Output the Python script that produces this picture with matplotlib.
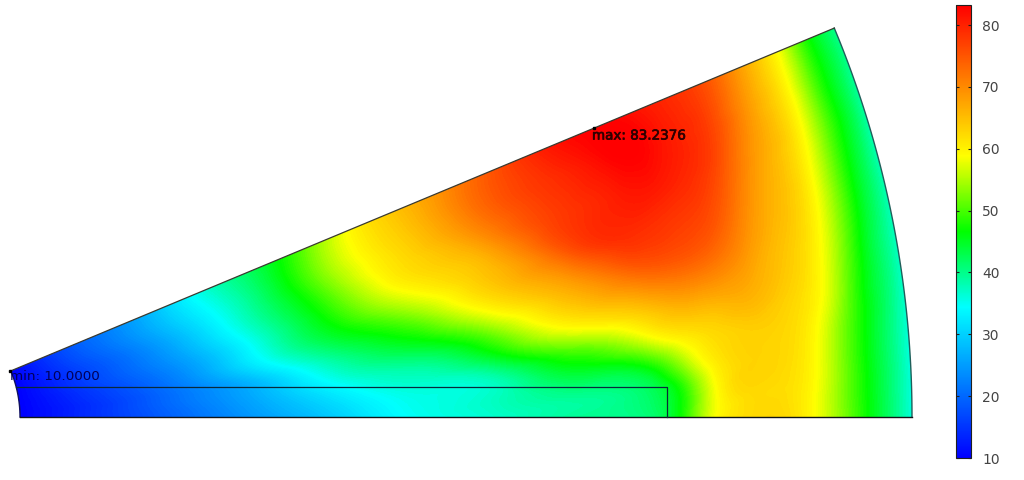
#!/usr/bin/env python3
import numpy as np
import matplotlib
matplotlib.use('Agg')
import matplotlib.pyplot as plt
import matplotlib.tri as mtri
import matplotlib.patheffects as pe
from matplotlib.colors import LinearSegmentedColormap, Normalize
from matplotlib.cm import ScalarMappable
from matplotlib.patches import Polygon

OUTPUT_IMAGE_NAME = 'out.png'

# sector stations, radius from the axis and angle in degrees
radius = [120, 200, 280, 360, 440, 520, 600, 680, 750, 790, 820, 860, 900, 940, 970, 992, 1012]
theta_deg = [0, 2, 4, 6, 8, 11, 14, 17, 20, 22.6]

# temperature, one row per radius, one column per angle
temperature = [
    [10, 10, 10, 10, 10, 10, 10, 10, 10, 10],
    [15, 15, 15, 15.5, 16, 17, 17.5, 18.5, 19.5, 20],
    [20, 20.5, 21, 21.5, 22.5, 24, 25.5, 27, 28.5, 29],
    [25, 26, 27, 28.5, 32, 34.5, 36.5, 38, 39, 40],
    [30, 31.5, 34, 37, 40, 45, 48, 50.5, 52, 51.5],
    [35, 35.5, 37, 40, 45, 52, 58.7, 61.5, 62.5, 63],
    [37, 37.5, 39, 46, 52, 61, 64.5, 68, 71, 71],
    [39.5, 40, 45, 52, 60.5, 67, 74, 77, 78, 79],
    [41, 42, 47.5, 57.5, 63.7, 73, 79, 80.5, 82.5, 83.2],
    [50, 50, 55.5, 61, 66, 74, 78, 81, 83, 82],
    [59.5, 59.5, 61, 62.5, 66, 73, 77, 79.5, 80.5, 80],
    [62.5, 62.5, 63, 63.5, 66, 69, 72, 75, 77, 77],
    [61, 61, 61.5, 62, 63, 64.5, 66, 67.5, 69, 70],
    [53.4, 53.4, 53.7, 54.7, 56.5, 58.2, 59.5, 60.5, 61, 61.5],
    [46, 46, 46, 46.6, 47.2, 48.8, 50, 51, 51.2, 51.6],
    [41, 41, 41, 41.5, 42, 42.5, 43.5, 44.5, 44.7, 44.7],
    [36, 36, 36, 36.5, 37, 37.5, 38, 38.5, 39.5, 40],
]

t_min = 10.0
t_max = 83.2376
colorbar_ticks = [10, 20, 30, 40, 50, 60, 70, 80]

rainbow = LinearSegmentedColormap.from_list('rainbow_fem', [
    (0.0, '#0000ff'), (1 / 3, '#00ffff'), (0.5, '#00ff00'), (2 / 3, '#ffff00'), (1.0, '#ff0000')], N=512)
norm = Normalize(t_min, t_max)

r_arr = np.array(radius, dtype=float)
th_arr = np.radians(theta_deg)
T = np.array(temperature)
rr, tt = np.meshgrid(r_arr, th_arr, indexing='ij')
xs = (rr * np.cos(tt)).ravel()
ys = (rr * np.sin(tt)).ravel()

# mesh on the polar stations
nr, nt = T.shape
tris = []
for i in range(nr - 1):
    for j in range(nt - 1):
        a = i * nt + j
        b = a + 1
        c = a + nt
        d = c + 1
        tris.append([a, c, d])
        tris.append([a, d, b])
tri = mtri.Triangulation(xs, ys, np.array(tris))
refiner = mtri.UniformTriRefiner(tri)
fine_tri, fine_T = refiner.refine_field(T.ravel(), subdiv=4)

fig = plt.figure(figsize=(10.24, 4.8), dpi=100)
ax = fig.add_axes([0, 0, 1, 1])
ax.set_xlim(100, 1124)
ax.set_ylim(-63, 417)
ax.axis('off')

levels = np.linspace(t_min, t_max, 200)
cs = ax.tricontourf(fine_tri, fine_T, levels=levels, cmap=rainbow, norm=norm, extend='both')

# sector outline
arc = np.radians(np.linspace(0, theta_deg[-1], 120))
out_xy = np.column_stack([radius[-1] * np.cos(arc), radius[-1] * np.sin(arc)])
in_xy = np.column_stack([radius[0] * np.cos(arc), radius[0] * np.sin(arc)])[::-1]
sector = Polygon(np.vstack([out_xy, in_xy]), closed=True, fc='none', ec='none')
ax.add_patch(sector)
cs.set_clip_path(sector)

ax.plot(out_xy[:, 0], out_xy[:, 1], color='#1f5f5a', lw=1.0)
ax.plot(in_xy[:, 0], in_xy[:, 1], color='#101060', lw=1.0)
ax.plot([radius[0], radius[-1]], [0, 0], color='#101418', lw=1.0)
ax.plot([in_xy[0, 0], out_xy[-1, 0]], [in_xy[0, 1], out_xy[-1, 1]], color='#3a3a30', lw=0.9)

# magnet block, open towards the inner arc
ax.plot([116, 767, 767], [30, 30, 0], color='#0a2a3a', lw=0.9)

# min and max probes
th_top = np.radians(theta_deg[-1])
ax.plot(119 * np.cos(th_top), 119 * np.sin(th_top), 's', color='black', ms=2)
ax.plot(752 * np.cos(th_top), 752 * np.sin(th_top), 's', color='black', ms=2)
ax.text(110, 40, 'min: 10.0000', fontsize=9.7, color='#00005a', va='center', ha='left')
ax.text(692, 281, 'max: 83.2376', fontsize=9.7, color='#300000', va='center', ha='left',
        path_effects=[pe.withStroke(linewidth=0.5, foreground='#300000')])

# colorbar
cax = fig.add_axes([956 / 1024, 1 - 458 / 480, 15 / 1024, 453 / 480])
cb = fig.colorbar(ScalarMappable(norm=norm, cmap=rainbow), cax=cax, ticks=colorbar_ticks)
cb.outline.set_edgecolor('#202020')
cb.outline.set_linewidth(0.8)
cax.tick_params(axis='y', direction='in', left=True, right=True, length=2, width=0.8, color='#202020',
                labelsize=10, labelcolor='#444444', pad=8)
cax.minorticks_off()

plt.savefig(OUTPUT_IMAGE_NAME, dpi=100)
